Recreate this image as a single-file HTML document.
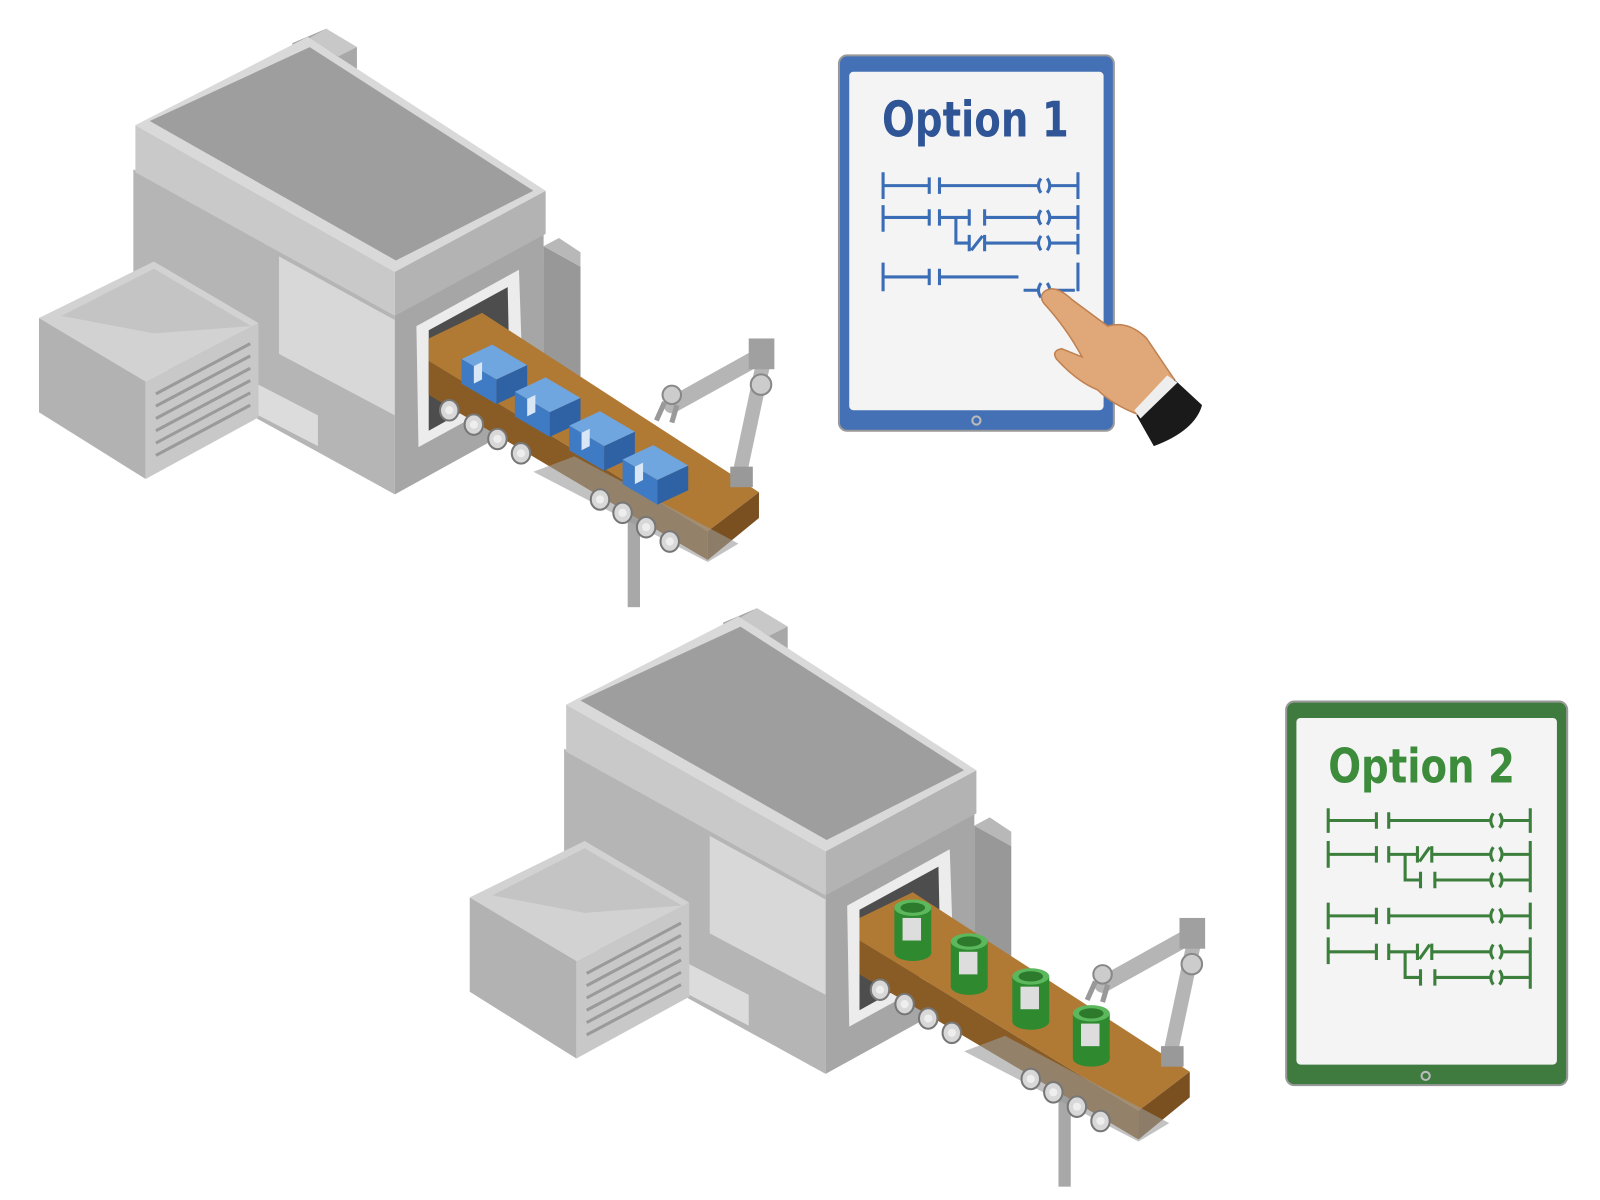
<!DOCTYPE html>
<html><head><meta charset="utf-8"><style>html,body{margin:0;padding:0;background:#fff}svg{display:block}</style></head>
<body>
<svg width="1600" height="1200" viewBox="0 0 1560 1170" xmlns="http://www.w3.org/2000/svg" font-family="'Liberation Sans', sans-serif">
<defs>
<g id="machine">
  <!-- chimney -->
  <polygon points="285,42 318,28 348,46 348,72 316,58 285,60" fill="#a8a8a8"/>
  <polygon points="318,28 348,46 330,55 300,38" fill="#c8c8c8"/>
  <!-- body -->
  <polygon points="130,165 385,305 385,482 130,342" fill="#b5b5b5"/>
  <polygon points="272,250 385,312 385,405 272,345" fill="#d8d8d8"/>
  <polygon points="385,305 530,228 530,402 385,482" fill="#a6a6a6"/>
  <polygon points="530,240 566,260 566,382 530,402" fill="#989898"/>
  <polygon points="530,240 545,232 566,246 566,260" fill="#b8b8b8"/>
  <!-- cap -->
  <polygon points="132,122 385,265 385,308 132,168" fill="#c9c9c9"/>
  <polygon points="385,265 532,186 532,228 385,308" fill="#b3b3b3"/>
  <polygon points="132,122 300,36 532,186 385,265" fill="#d9d9d9"/>
  <polygon points="146,118 302,46 520,186 386,254" fill="#9e9e9e"/>
  <!-- air unit (in front) -->
  <polygon points="38,310 150,255 252,315 142,372" fill="#d2d2d2"/>
  <polygon points="60,308 150,262 245,318 150,325" fill="#c4c4c4"/>
  <polygon points="38,310 142,372 142,467 38,402" fill="#b2b2b2"/>
  <polygon points="142,372 252,315 252,407 142,467" fill="#c8c8c8"/>
  <g stroke="#9a9a9a" stroke-width="3">
    <line x1="152" y1="384" x2="244" y2="335"/><line x1="152" y1="396" x2="244" y2="347"/>
    <line x1="152" y1="408" x2="244" y2="359"/><line x1="152" y1="420" x2="244" y2="371"/>
    <line x1="152" y1="432" x2="244" y2="383"/><line x1="152" y1="444" x2="244" y2="395"/>
  </g>
  <polygon points="252,375 310,405 310,435 252,405" fill="#dcdcdc"/>
  <!-- door -->
  <polygon points="406,318 506,263 510,380 408,436" fill="#ececec"/>
  <polygon points="418,322 495,280 497,376 418,420" fill="#4d4d4d"/>
  <!-- leg -->
  <rect x="612" y="500" width="12" height="92" fill="#a8a8a8"/>
  <!-- conveyor -->
  <polygon points="418,352 690,518 690,546 418,385" fill="#8a5c25"/>
  <polygon points="418,330 470,305 740,480 690,518 418,352" fill="#b07a35"/>
  <polygon points="690,518 740,480 740,505 690,546" fill="#7a5020"/>
  <polygon points="520,460 690,548 720,530 560,445" fill="#9a9a9a" opacity="0.6"/>
  <g fill="#d8d8d8" stroke="#777" stroke-width="2">
    <ellipse cx="438" cy="400" rx="9" ry="10"/><ellipse cx="462" cy="414" rx="9" ry="10"/>
    <ellipse cx="485" cy="428" rx="9" ry="10"/><ellipse cx="508" cy="442" rx="9" ry="10"/>
    <ellipse cx="585" cy="487" rx="9" ry="10"/><ellipse cx="607" cy="500" rx="9" ry="10"/>
    <ellipse cx="630" cy="514" rx="9" ry="10"/><ellipse cx="653" cy="528" rx="9" ry="10"/>
  </g>
  <g fill="#eee"><ellipse cx="438" cy="400" rx="4" ry="4"/><ellipse cx="462" cy="414" rx="4" ry="4"/><ellipse cx="485" cy="428" rx="4" ry="4"/><ellipse cx="508" cy="442" rx="4" ry="4"/><ellipse cx="585" cy="487" rx="4" ry="4"/><ellipse cx="607" cy="500" rx="4" ry="4"/><ellipse cx="630" cy="514" rx="4" ry="4"/><ellipse cx="653" cy="528" rx="4" ry="4"/></g>
  <!-- robot arm -->
  <g fill="none" stroke="#b5b5b5" stroke-linecap="round">
    <path d="M655 395 L745 345" stroke-width="16"/>
    <path d="M745 350 L722 458" stroke-width="14"/>
  </g>
  <rect x="730" y="330" width="25" height="30" fill="#a0a0a0"/>
  <circle cx="742" cy="375" r="10" fill="#ccc" stroke="#888" stroke-width="2"/>
  <circle cx="655" cy="385" r="9" fill="#ccc" stroke="#888" stroke-width="2"/>
  <path d="M648 392 L640 410 M660 395 L655 412" stroke="#999" stroke-width="5"/>
  <rect x="712" y="455" width="22" height="20" fill="#999"/>
</g>
<g id="box">
  <polygon points="0,0 30,-14 64,6 34,20" fill="#6fa6e0"/>
  <polygon points="0,0 34,20 34,44 0,24" fill="#3e7bc4"/>
  <polygon points="34,20 64,6 64,30 34,44" fill="#2f62a5"/>
  <polygon points="12,7 20,3 20,20 12,24" fill="#d8e6f5"/>
</g>
<g id="can">
  <rect x="0" y="0" width="36" height="44" fill="#2f8a2f"/>
  <rect x="8" y="10" width="18" height="22" fill="#ddd"/>
  <ellipse cx="18" cy="44" rx="18" ry="8" fill="#2f8a2f"/>
  <ellipse cx="18" cy="0" rx="18" ry="8" fill="#5cb85c"/>
  <ellipse cx="18" cy="0" rx="12" ry="5" fill="#2d7a2d"/>
</g>
</defs>

<use href="#machine"/>
<use href="#box" x="450" y="350"/>
<use href="#box" x="502" y="382"/>
<use href="#box" x="555" y="415"/>
<use href="#box" x="607" y="448"/>

<g transform="translate(420,565)"><use href="#machine"/></g>
<use href="#can" x="872" y="885"/>
<use href="#can" x="927" y="918"/>
<use href="#can" x="987" y="952"/>
<use href="#can" x="1046" y="988"/>

<!-- Tablet 1 -->
<rect x="818" y="54" width="268" height="366" rx="8" fill="#4470b5" stroke="#999" stroke-width="2"/>
<rect x="828" y="70" width="248" height="330" rx="4" fill="#f4f4f4"/>
<circle cx="952" cy="410" r="4" fill="none" stroke="#bbb" stroke-width="2"/>
<text x="860" y="133" font-size="48" font-weight="bold" fill="#2f5597" font-family="'DejaVu Sans Condensed','DejaVu Sans',sans-serif" textLength="182" lengthAdjust="spacingAndGlyphs">Option 1</text>
<g stroke="#3a6db5" stroke-width="3" fill="none">
  <path d="M861 168V194 M861 200V226 M861 256V284 M1051 168V194 M1051 200V224 M1051 228V248 M1051 256V284"/>
  <path d="M861 181H906 M906 173V189 M916 173V189 M916 181H1012 M1024 181H1051"/>
  <path d="M1015 174q-5 7 0 14 M1021 174q5 7 0 14"/>
  <path d="M861 212H906 M906 204V220 M916 204V220 M916 212H945 M945 204V220 M960 204V220 M960 212H1012 M1024 212H1051"/>
  <path d="M1015 205q-5 7 0 14 M1021 205q5 7 0 14"/>
  <path d="M932 212V237H945 M945 229V245 M960 229V245 M960 237H1012 M1024 237H1051 M947 244L958 230"/>
  <path d="M1015 230q-5 7 0 14 M1021 230q5 7 0 14"/>
  <path d="M861 270H906 M906 262V278 M916 262V278 M916 270H993 M998 283H1012 M1024 283H1048"/>
  <path d="M1015 276q-5 7 0 14 M1021 276q5 7 0 14"/>
</g>
<!-- hand -->
<path d="M1020 283 Q1030 278 1045 292 L1080 318 Q1100 312 1118 330 L1145 370 L1112 405 Q1085 395 1070 380 Q1050 372 1030 350 Q1025 342 1035 340 L1055 348 Q1040 320 1018 296 Q1012 288 1020 283 Z" fill="#e0a878" stroke="#c08050" stroke-width="1.5"/>
<path d="M1145 370 L1172 395 Q1165 420 1125 435 L1108 405 Z" fill="#1a1a1a"/>
<path d="M1138 366 L1148 373 L1112 408 L1106 400 Z" fill="#eee"/>

<!-- Tablet 2 -->
<rect x="1254" y="684" width="274" height="374" rx="8" fill="#3f7a3f" stroke="#999" stroke-width="2"/>
<rect x="1264" y="700" width="254" height="338" rx="4" fill="#f4f4f4"/>
<circle cx="1390" cy="1049" r="4" fill="none" stroke="#bbb" stroke-width="2"/>
<text x="1295" y="763" font-size="46" font-weight="bold" fill="#3c8c3c" font-family="'DejaVu Sans Condensed','DejaVu Sans',sans-serif" textLength="182" lengthAdjust="spacingAndGlyphs">Option 2</text>
<g stroke="#3c7f3c" stroke-width="3" fill="none">
  <path d="M1295 788V812 M1295 820V846 M1295 880V906 M1295 914V940 M1492 788V812 M1492 820V870 M1492 880V906 M1492 914V964"/>
  <path d="M1295 800H1342 M1342 792V808 M1354 792V808 M1354 800H1452 M1466 800H1492 M1456 793q-5 7 0 14 M1462 793q5 7 0 14"/>
  <path d="M1295 893H1342 M1342 885V901 M1354 885V901 M1354 893H1452 M1466 893H1492 M1456 886q-5 7 0 14 M1462 886q5 7 0 14"/>
  <g id="r2">
  <path d="M1295 833H1342 M1342 825V841 M1354 825V841 M1354 833H1382 M1382 825V841 M1396 825V841 M1396 833H1452 M1466 833H1492 M1384 840L1394 826 M1456 826q-5 7 0 14 M1462 826q5 7 0 14"/>
  <path d="M1370 833V858H1385 M1385 850V866 M1399 850V866 M1399 858H1452 M1466 858H1492 M1456 851q-5 7 0 14 M1462 851q5 7 0 14"/>
  </g>
  <use href="#r2" y="95"/>
</g>
</svg>
</body></html>
